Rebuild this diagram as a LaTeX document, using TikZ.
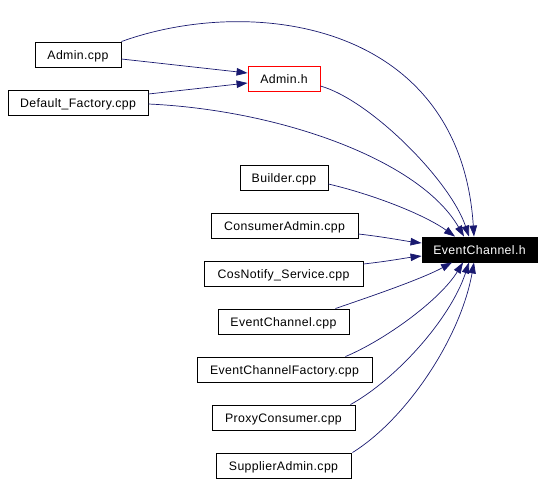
\documentclass[tikz,border=0pt]{standalone}
\usepackage{fontspec}
\setmainfont{Liberation Sans}
\newfontfamily\dfont[LetterSpace=3]{Liberation Sans}
\usetikzlibrary{arrows.meta}
\definecolor{edgeblue}{HTML}{191970}
\begin{document}
\begin{tikzpicture}[x=1pt,y=-1pt,
  box/.style={draw=black,line width=0.9pt,rectangle,minimum height=25pt,inner sep=0pt,text height=10.4pt,text depth=0pt,font=\dfont\fontsize{12.3}{14}\selectfont},
  edge/.style={draw=edgeblue,line width=0.7pt,-{Triangle[length=11pt,width=7.5pt]}}]
\useasboundingbox (0,0) rectangle (544,483);
\fill[white] (0,0) rectangle (544,483);
\node[box,minimum width=86pt] (admincpp) at (78,54.5) {Admin.cpp};
\node[box,draw=red,minimum width=72pt] (adminh) at (284,78.5) {Admin.h};
\node[box,minimum width=140pt] (df) at (78,102.5) {Default\_Factory.cpp};
\node[box,minimum width=88pt] (builder) at (284,177.5) {Builder.cpp};
\node[box,minimum width=147pt] (consumer) at (284.5,225.5) {ConsumerAdmin.cpp};
\node[box,fill=black,text=white,minimum width=115pt] (ec) at (479.5,249.5) {EventChannel.h};
\node[box,minimum width=159pt] (cosnotify) at (283.5,273.5) {CosNotify\_Service.cpp};
\node[box,minimum width=131pt] (eccpp) at (283.5,321.5) {EventChannel.cpp};
\node[box,minimum width=175pt] (ecf) at (284.5,369.5) {EventChannelFactory.cpp};
\node[box,minimum width=143pt] (pc) at (283.5,417.5) {ProxyConsumer.cpp};
\node[box,minimum width=135pt] (sa) at (283.5,465.5) {SupplierAdmin.cpp};

\draw[edge] (admincpp.north east) .. controls (250,-5) and (460,20) .. ([xshift=-5.5pt]ec.north);
\draw[edge] ([yshift=-4.5pt]admincpp.east) -- ([yshift=5.5pt]adminh.west);
\draw[edge] ([yshift=8.5pt]df.east) -- ([yshift=-4.5pt]adminh.west);
\draw[edge] ([yshift=-7.5pt]adminh.east) .. controls (370,100) and (450,180) .. ([xshift=-10.5pt]ec.north);
\draw[edge] ([yshift=-1.5pt]df.east) .. controls (280,110) and (420,160) .. ([xshift=-15.5pt]ec.north);
\draw[edge] ([yshift=-6.5pt]builder.east) .. controls (375,195) and (425,215) .. ([xshift=-24.5pt]ec.north);
\draw[edge] ([yshift=-8.5pt]consumer.east) .. controls (385,237) and (405,241) .. ([yshift=6.5pt]ec.west);
\draw[edge] ([yshift=9.5pt]cosnotify.east) .. controls (390,261) and (405,258) .. ([yshift=-6.5pt]ec.west);
\draw[edge] ([xshift=-14pt]eccpp.north east) .. controls (360,300) and (420,280) .. ([xshift=-27.5pt]ec.south);
\draw[edge] ([xshift=-27pt]ecf.north east) .. controls (385,340) and (440,300) .. ([xshift=-16.5pt]ec.south);
\draw[edge] ([xshift=-5pt]pc.north east) .. controls (395,380) and (450,320) .. ([xshift=-10.5pt]ec.south);
\draw[edge] ([xshift=1pt]sa.north east) .. controls (405,420) and (460,340) .. ([xshift=-5.5pt]ec.south);
\end{tikzpicture}
\end{document}
